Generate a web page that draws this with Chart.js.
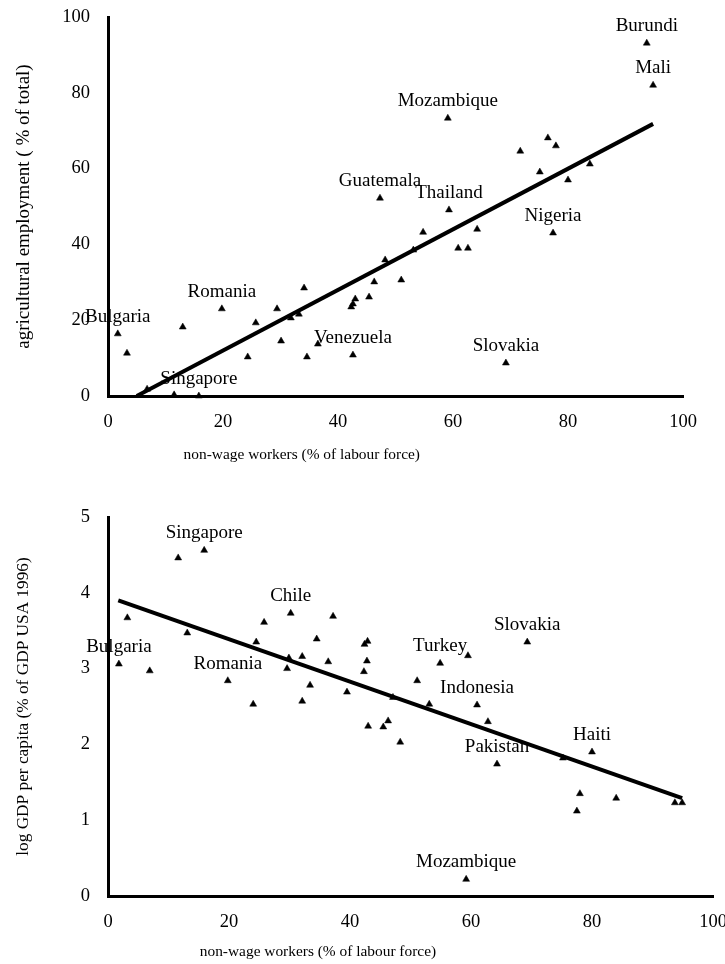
<!DOCTYPE html>
<html>
<head>
<meta charset="utf-8">
<script src="https://cdn.jsdelivr.net/npm/chart.js@4/dist/chart.umd.min.js"></script>
<style>
  html, body { margin: 0; padding: 0; background: #fff; }
  #wrap1 { position: absolute; left: 0; top: 0; width: 725px; height: 480px; }
  #wrap2 { position: absolute; left: 0; top: 480px; width: 725px; height: 484px; }
</style>
</head>
<body>
<div id="wrap1"><canvas id="c1"></canvas></div>
<div id="wrap2"><canvas id="c2"></canvas></div>
<script>
// ---------- Top chart: agricultural employment vs non-wage workers ----------
const topX = [93.7, 94.8, 59.1, 76.5, 77.9, 71.7, 83.8, 75.1, 80.0, 47.3, 59.3, 54.8, 64.2, 60.9, 62.6, 53.1, 48.2, 51.0, 77.4, 69.2, 46.3, 45.4, 43.0, 42.6, 42.3, 34.1, 29.4, 33.2, 31.8, 25.7, 19.8, 13.0, 1.7, 3.3, 30.1, 36.5, 24.3, 34.6, 42.6, 6.8, 11.5, 15.8];
const topY = [93.1, 82.0, 73.3, 68.1, 66.0, 64.6, 61.2, 59.1, 57.0, 52.2, 49.1, 43.2, 44.0, 39.0, 39.0, 38.5, 35.9, 30.6, 43.0, 8.7, 30.1, 26.1, 25.6, 24.3, 23.5, 28.5, 23.0, 21.6, 20.6, 19.3, 23.0, 18.2, 16.4, 11.3, 14.5, 13.7, 10.3, 10.3, 10.8, 1.8, 0.3, 0.0];
const topLabels = ['Burundi', 'Mali', 'Mozambique', '', '', '', '', '', '', 'Guatemala', 'Thailand', '', '', '', '', '', '', '', 'Nigeria', 'Slovakia', '', '', '', '', '', '', '', '', '', '', 'Romania', '', 'Bulgaria', '', '', '', '', '', 'Venezuela', '', '', 'Singapore'];
const topTrendX = [5.0, 94.8];
const topTrendY = [0, 71.8];
const topXTicks = [0, 20, 40, 60, 80, 100];
const topYTicks = [0, 20, 40, 60, 80, 100];

// ---------- Bottom chart: log GDP per capita vs non-wage workers ----------
const botX = [15.9, 11.6, 30.2, 37.2, 3.2, 25.8, 13.1, 34.5, 24.5, 42.9, 42.4, 29.9, 32.1, 36.4, 42.8, 1.8, 6.9, 29.6, 42.3, 19.8, 33.4, 39.5, 32.1, 24.0, 47.1, 43.0, 45.5, 46.3, 48.3, 54.9, 59.5, 69.3, 51.1, 61.0, 53.1, 62.8, 64.3, 75.2, 80.0, 78.0, 77.5, 84.0, 93.7, 94.9, 59.2];
const botY = [4.56, 4.46, 3.73, 3.69, 3.67, 3.61, 3.47, 3.39, 3.35, 3.36, 3.32, 3.14, 3.16, 3.09, 3.10, 3.06, 2.97, 3.00, 2.96, 2.84, 2.78, 2.69, 2.57, 2.53, 2.62, 2.24, 2.23, 2.31, 2.03, 3.07, 3.17, 3.35, 2.84, 2.52, 2.53, 2.30, 1.74, 1.82, 1.90, 1.35, 1.12, 1.29, 1.23, 1.23, 0.22];
const botLabels = ['Singapore', '', 'Chile', '', '', '', '', '', '', '', '', '', '', '', '', 'Bulgaria', '', '', '', 'Romania', '', '', '', '', '', '', '', '', '', 'Turkey', '', 'Slovakia', '', 'Indonesia', '', '', 'Pakistan', '', 'Haiti', '', '', '', '', '', 'Mozambique'];
const botTrendX = [1.7, 94.9];
const botTrendY = [3.9, 1.29];
const botXTicks = [0, 20, 40, 60, 80, 100];
const botYTicks = [0, 1, 2, 3, 4, 5];

const X_TITLE = 'non-wage workers (% of labour force)';
const SERIF = '"Liberation Serif", "Times New Roman", serif';

const labelPlugin = {
  id: 'pointLabels',
  afterDatasetsDraw(chart) {
    const o = chart.options.plugins.pointLabels;
    const meta = chart.getDatasetMeta(0);
    const ctx = chart.ctx;
    ctx.save();
    ctx.fillStyle = '#000';
    ctx.font = '19px ' + SERIF;
    ctx.textAlign = 'center';
    ctx.textBaseline = 'alphabetic';
    meta.data.forEach((el, i) => {
      if (o.labels[i]) ctx.fillText(o.labels[i], el.x, el.y - 12);
    });
    // x-axis title, placed left of centre as in the original
    const ca = chart.chartArea;
    ctx.font = '15.4px ' + SERIF;
    ctx.textBaseline = 'middle';
    ctx.fillText(o.xTitle, ca.left + o.xTitleFrac * (ca.right - ca.left), chart.height - o.xTitleBottom);
    ctx.restore();
  }
};

function pts(xs, ys) { return xs.map((x, i) => ({ x: x, y: ys[i] })); }

function makeChart(id, cfg) {
  return new Chart(document.getElementById(id), {
    type: 'scatter',
    data: {
      datasets: [
        {
          data: pts(cfg.x, cfg.y),
          pointStyle: 'triangle',
          pointRadius: 4,
          backgroundColor: '#000',
          borderColor: '#000',
          borderWidth: 0.5,
          clip: false,
          order: 1
        },
        {
          type: 'line',
          data: pts(cfg.tx, cfg.ty),
          borderColor: '#000',
          borderWidth: 4,
          pointRadius: 0,
          fill: false,
          clip: false,
          order: 0
        }
      ]
    },
    options: {
      responsive: true,
      maintainAspectRatio: false,
      animation: false,
      events: [],
      layout: { padding: { left: 0, top: cfg.padTop, right: cfg.padRight, bottom: 0 } },
      plugins: {
        legend: { display: false },
        tooltip: { enabled: false },
        pointLabels: { labels: cfg.labels, xTitle: X_TITLE, xTitleFrac: cfg.xTitleFrac, xTitleBottom: cfg.xTitleBottom }
      },
      scales: {
        x: {
          type: 'linear',
          min: cfg.xTicks[0], max: cfg.xTicks[cfg.xTicks.length - 1],
          afterBuildTicks(scale) { scale.ticks = cfg.xTicks.map(v => ({ value: v })); },
          afterFit(scale) { scale.height = cfg.xAxisH; scale.paddingLeft = 0; scale.paddingRight = 0; },
          grid: { display: false },
          border: { display: true, color: '#000', width: 3 },
          ticks: { color: '#000', font: { family: SERIF, size: 18.5 }, padding: cfg.xTickPad, maxRotation: 0 },
          title: { display: false }
        },
        y: {
          type: 'linear',
          min: cfg.yTicks[0], max: cfg.yTicks[cfg.yTicks.length - 1],
          afterBuildTicks(scale) { scale.ticks = cfg.yTicks.map(v => ({ value: v })); },
          afterFit(scale) { scale.width = 108; scale.paddingTop = 0; scale.paddingBottom = 0; },
          grid: { display: false },
          border: { display: true, color: '#000', width: 3 },
          ticks: { color: '#000', font: { family: SERIF, size: 18.5 }, padding: 10 },
          title: { display: true, text: cfg.yTitle, color: '#000',
                   font: { family: SERIF, size: cfg.yTitleSize }, padding: { top: 13, bottom: 0 } }
        }
      }
    },
    plugins: [labelPlugin]
  });
}

makeChart('c1', {
  x: topX, y: topY, labels: topLabels, tx: topTrendX, ty: topTrendY,
  xTicks: topXTicks, yTicks: topYTicks,
  padTop: 17, padRight: 42, xAxisH: 84, xTickPad: 7,
  xTitleFrac: 0.337, xTitleBottom: 25,
  yTitle: 'agricultural employment ( % of total)', yTitleSize: 19
});

makeChart('c2', {
  x: botX, y: botY, labels: botLabels, tx: botTrendX, ty: botTrendY,
  xTicks: botXTicks, yTicks: botYTicks,
  padTop: 37, padRight: 12, xAxisH: 68, xTickPad: 7,
  xTitleFrac: 0.347, xTitleBottom: 12,
  yTitle: 'log GDP per capita (% of GDP USA 1996)', yTitleSize: 17.3
});
</script>
</body>
</html>
